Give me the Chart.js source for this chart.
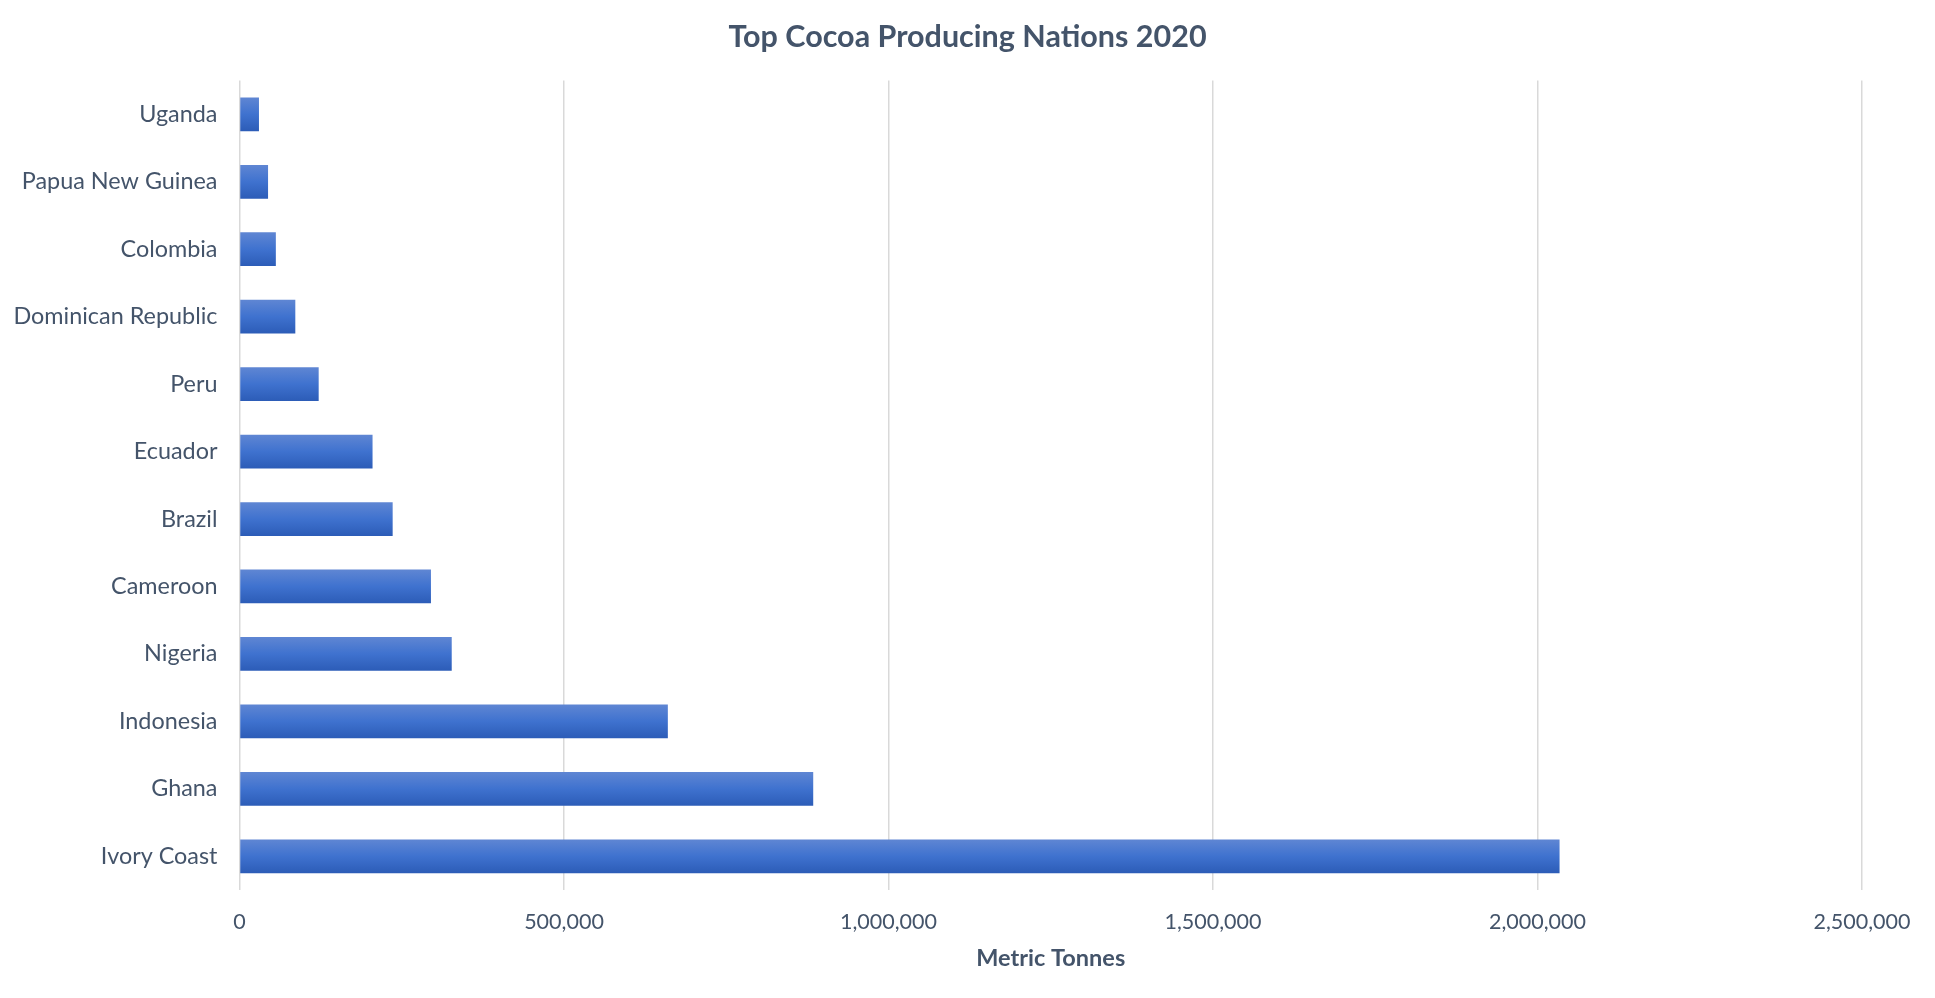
<!DOCTYPE html>
<html>
<head>
<meta charset="utf-8">
<title>Top Cocoa Producing Nations 2020</title>
<script src="https://cdn.jsdelivr.net/npm/chart.js@4.4.1/dist/chart.umd.min.js"></script>
<style>
  html, body { margin: 0; padding: 0; background: #ffffff; }
  #wrap { width: 1935px; height: 998px; position: relative; }
</style>
</head>
<body>
<div id="wrap"><canvas id="cocoa-chart"></canvas></div>
<script>
// chart data
var countries = ['Uganda', 'Papua New Guinea', 'Colombia', 'Dominican Republic', 'Peru', 'Ecuador',
                 'Brazil', 'Cameroon', 'Nigeria', 'Indonesia', 'Ghana', 'Ivory Coast'];
var tonnes = [30000, 44000, 56000, 86000, 122000, 205000, 236000, 295000, 327000, 660000, 884000, 2034000];
var xTicks = [0, 500000, 1000000, 1500000, 2000000, 2500000];

var textColor = '#44546a';
var fontName = 'Lato, "Open Sans", sans-serif';

// vertical gradient per bar, worked out from the y scale
function barFill(context) {
  var chart = context.chart;
  var yScale = chart.scales.y;
  if (!yScale || !chart.chartArea) return '#4472c4';
  var centre = yScale.getPixelForValue(context.dataIndex);
  var half = yScale.height / countries.length / 4;
  var g = chart.ctx.createLinearGradient(0, centre - half, 0, centre + half);
  g.addColorStop(0, '#5f86d3');
  g.addColorStop(0.5, '#3f72cf');
  g.addColorStop(1, '#2c5cb7');
  return g;
}

var ctx = document.getElementById('cocoa-chart').getContext('2d');
var cocoaChart = new Chart(ctx, {
  type: 'bar',
  data: {
    labels: countries,
    datasets: [{
      label: 'Metric Tonnes',
      data: tonnes,
      backgroundColor: barFill,
      borderWidth: 0,
      categoryPercentage: 1,
      barPercentage: 0.5
    }]
  },
  options: {
    indexAxis: 'y',
    responsive: true,
    maintainAspectRatio: false,
    animation: false,
    layout: { padding: 0 },
    plugins: {
      legend: { display: false },
      tooltip: { enabled: false },
      title: {
        display: true,
        text: 'Top Cocoa Producing Nations 2020',
        color: textColor,
        font: { family: fontName, size: 30.5, weight: 'bold' },
        padding: { top: 19, bottom: 25 }
      }
    },
    scales: {
      y: {
        grid: { display: false },
        border: { display: false },
        ticks: {
          color: textColor,
          font: { family: fontName, size: 23.4 },
          padding: 14
        },
        afterFit: function (scale) { scale.width = 239.5; }
      },
      x: {
        min: 0,
        max: 2500000,
        afterBuildTicks: function (scale) {
          scale.ticks = xTicks.map(function (v) { return { value: v }; });
        },
        grid: { color: '#d9d9d9', lineWidth: 1.5, drawTicks: false },
        border: { display: false },
        ticks: {
          color: textColor,
          font: { family: fontName, size: 21.5 },
          padding: 19
        },
        title: {
          display: true,
          text: 'Metric Tonnes',
          color: textColor,
          font: { family: fontName, size: 23.5, weight: 'bold' },
          padding: { top: 0, bottom: 25 }
        },
        // right gap kept on the axis only, so the title stays centred on the page
        afterFit: function (scale) {
          scale.height = 108;
          scale.paddingRight = 73;
        }
      }
    }
  }
});
// comma separated thousands on the value axis
cocoaChart.options.scales.x.ticks.callback = function (v) { return Number(v).toLocaleString('en-US'); };
cocoaChart.update();
</script>
</body>
</html>
